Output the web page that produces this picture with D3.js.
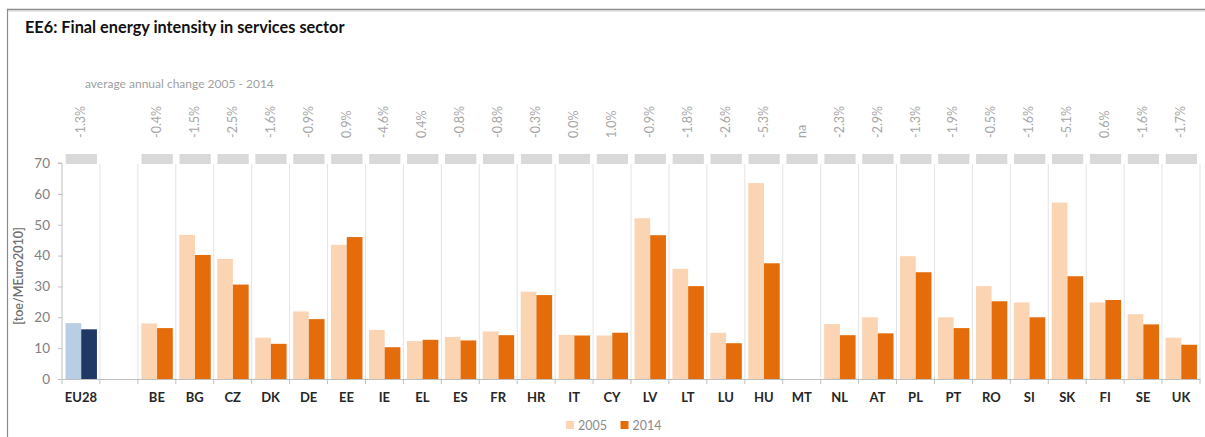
<!DOCTYPE html>
<html><head><meta charset="utf-8">
<script src="https://cdn.jsdelivr.net/npm/d3@7"></script>
<style>
html,body{margin:0;padding:0;background:#fff;}
text{font-family:Lato,"Open Sans",sans-serif;}
</style></head>
<body>
<svg id="chart" width="1205" height="437"></svg>
<script>
const categories = ["EU28","","BE","BG","CZ","DK","DE","EE","IE","EL","ES","FR","HR","IT","CY","LV","LT","LU","HU","MT","NL","AT","PL","PT","RO","SI","SK","FI","SE","UK"];
const values2005 = [18.1,null,18.0,46.7,38.9,13.4,21.9,43.5,15.9,12.3,13.6,15.4,28.3,14.3,14.1,52.1,35.7,15.0,63.5,null,17.8,20.0,39.8,20.0,30.1,24.8,57.2,24.8,21.0,13.4];
const values2014 = [16.1,null,16.5,40.2,30.6,11.4,19.4,46.0,10.3,12.7,12.5,14.2,27.2,14.1,15.0,46.6,30.1,11.6,37.5,null,14.2,14.8,34.6,16.5,25.2,20.0,33.3,25.6,17.7,11.1];
const changes = ["-1.3%",null,"-0.4%","-1.5%","-2.5%","-1.6%","-0.9%","0.9%","-4.6%","0.4%","-0.8%","-0.8%","-0.3%","0.0%","1.0%","-0.9%","-1.8%","-2.6%","-5.3%","na","-2.3%","-2.9%","-1.3%","-1.9%","-0.5%","-1.6%","-5.1%","0.6%","-1.6%","-1.7%"];
const yTicks = [0,10,20,30,40,50,60,70];
const seriesNames = ["2005","2014"];

const colors = {"2005":"#FBD4B4","2014":"#E46C0A"};
const euColors = {"2005":"#B9CDE5","2014":"#1F3864"};

const svg = d3.select("#chart");
const slots = categories.map((c,i)=>"s"+i);
const x = d3.scaleBand().domain(slots).range([62,1200]).paddingInner(0).paddingOuter(0);
const y = d3.scaleLinear().domain([0,70]).range([379,163]);
const xi = d3.scaleBand().domain(seriesNames).range([3.5, x.bandwidth()-3]).paddingInner(0);

// frame
svg.append("line").attr("x1",7).attr("x2",1205).attr("y1",9.5).attr("y2",9.5).attr("stroke","#8c8c8c").attr("stroke-width",1.5);
svg.append("line").attr("x1",7).attr("x2",1205).attr("y1",11).attr("y2",11).attr("stroke","#d0d0d0").attr("stroke-width",1);
svg.append("line").attr("x1",7.5).attr("x2",7.5).attr("y1",9).attr("y2",437).attr("stroke","#8c8c8c").attr("stroke-width",1.2);

// title
svg.append("text").attr("x",25).attr("y",33).attr("font-size",16.3).attr("font-weight","bold").attr("fill","#111")
  .text("EE6: Final energy intensity in services sector");
svg.append("text").attr("x",85).attr("y",88).attr("font-size",12).attr("fill","#a0a0a0")
  .text("average annual change 2005 - 2014");

// separators
const bounds = slots.slice(1).map(s=>x(s)).concat([x.range()[1]]);
svg.append("g").selectAll("line").data(bounds).join("line")
  .attr("x1",d=>d).attr("x2",d=>d).attr("y1",y(70)+1).attr("y2",y(0))
  .attr("stroke","#e3e3e3").attr("stroke-width",1);

// gray top bars
svg.append("g").selectAll("rect").data(categories.map((c,i)=>({c,i})).filter(d=>d.c!==""))
  .join("rect").attr("x",d=>x(slots[d.i])+3.7).attr("width",x.bandwidth()-6.7)
  .attr("y",y(70)-9).attr("height",10).attr("fill","#d9d9d9");

// bars
const data = categories.map((c,i)=>({c,i,v:{"2005":values2005[i],"2014":values2014[i]}}));
const g = svg.append("g");
data.forEach(d=>{
  seriesNames.forEach(s=>{
    const v = d.v[s];
    if(v==null) return;
    g.append("rect").attr("x",x(slots[d.i])+xi(s)).attr("width",xi.bandwidth())
      .attr("y",y(v)).attr("height",y(0)-y(v))
      .attr("fill", d.c==="EU28"?euColors[s]:colors[s]);
  });
});

// x axis
const xAxis = d3.axisBottom(x).tickSize(0).tickFormat((s,i)=>categories[i]);
const xg = svg.append("g").attr("transform",`translate(0,${y(0)})`).call(xAxis);
xg.select(".domain").attr("stroke","#bfbfbf").attr("stroke-width",1.2);
xg.selectAll("text").attr("font-size",13).attr("font-weight","bold").attr("fill","#262626").attr("dy","1.55em").attr("font-family","Lato,sans-serif");
svg.append("g").selectAll("line").data([x.range()[0]].concat(bounds)).join("line")
  .attr("x1",d=>d).attr("x2",d=>d).attr("y1",y(0)).attr("y2",y(0)+5).attr("stroke","#bfbfbf");

// y axis
const yAxis = d3.axisLeft(y).tickValues(yTicks).tickSize(4).tickPadding(8);
const yg = svg.append("g").attr("transform",`translate(62,0)`).call(yAxis);
yg.select(".domain").attr("stroke","#bfbfbf").attr("d",`M-4,${y(70)}H0V${y(0)}`);
yg.selectAll("line").attr("stroke","#bfbfbf");
yg.selectAll("text").attr("font-size",13.5).attr("fill","#808080").attr("font-family","Lato,sans-serif");
svg.append("text").attr("transform",`translate(23,${(y(0)+y(70))/2+5}) rotate(-90)`).attr("text-anchor","middle")
  .attr("font-size",12.5).attr("font-weight","600").attr("fill","#707070").text("[toe/MEuro2010]");

// change labels
svg.append("g").selectAll("text").data(categories.map((c,i)=>({c,i,t:changes[i]})).filter(d=>d.t))
  .join("text").attr("transform",d=>`translate(${x(slots[d.i])+x.bandwidth()/2+4},138) rotate(-90)`)
  .attr("font-size",12.5).attr("fill","#a6a6a6").text(d=>d.t);

// legend
const lg = svg.append("g").attr("transform","translate(566,421)");
seriesNames.forEach((s,i)=>{
  const gg = lg.append("g").attr("transform",`translate(${i*54.5},0)`);
  gg.append("rect").attr("width",8).attr("height",8).attr("fill",colors[s]);
  gg.append("text").attr("x",12).attr("y",8.5).attr("font-size",12.5).attr("fill","#8c8c8c").text(s);
});
</script>
</body></html>
